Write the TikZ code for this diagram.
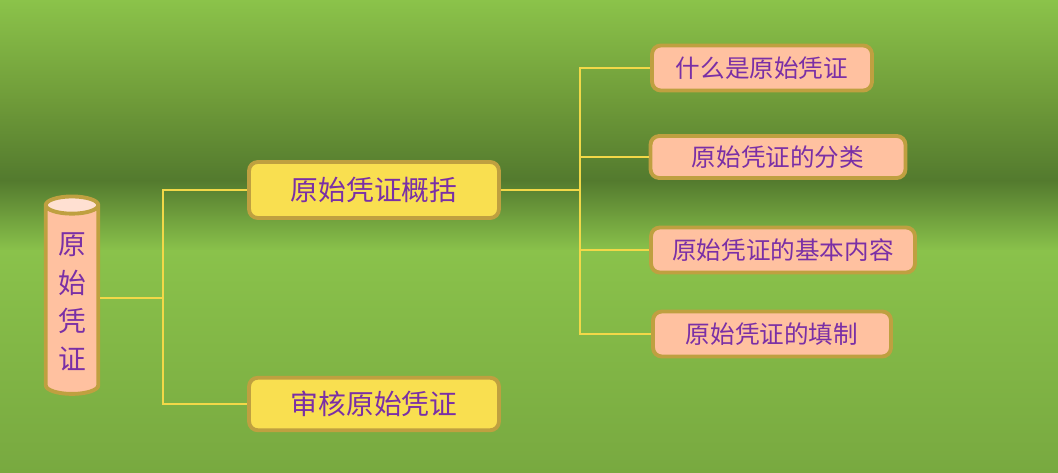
\documentclass[tikz,border=0pt]{standalone}
\usepackage{fontspec}
\newfontfamily\cjk{Noto Sans CJK SC}
\usepackage{tikz}
\usepackage{xcolor}
\usetikzlibrary{shapes.geometric,positioning}
\definecolor{bgtop}{HTML}{8BC34A}
\definecolor{bgmid}{HTML}{6F9B39}
\definecolor{bgdark}{HTML}{537A2E}
\definecolor{bglight}{HTML}{8AC24B}
\definecolor{bgbot}{HTML}{78A940}
\definecolor{goldrim}{HTML}{BFA040}
\definecolor{lemon}{HTML}{F9DF50}
\definecolor{salmon}{HTML}{FFC1A0}
\definecolor{salmonlt}{HTML}{FFE0D2}
\definecolor{plum}{HTML}{7A2FA6}
\definecolor{wire}{HTML}{F2D848}
\tikzset{
  topicbox/.style={draw=goldrim,fill=lemon,line width=2.2pt,rounded corners=5pt,
                   minimum width=5.0cm,align=center,text=plum,
                   font=\cjk\fontsize{15.8}{18}\selectfont,inner sep=2pt},
  leafbox/.style={draw=goldrim,fill=salmon,line width=2.2pt,rounded corners=5pt,
                  minimum height=0.9cm,align=center,text=plum,
                  font=\cjk\fontsize{14}{16}\selectfont,inner sep=2pt},
  pillar/.style={shape=cylinder,shape border rotate=90,aspect=0.55,
                 draw=goldrim,line width=2.2pt,cylinder uses custom fill,
                 cylinder body fill=salmon,cylinder end fill=salmonlt,
                 minimum width=1.05cm,minimum height=3.95cm,inner sep=1pt,
                 align=center,text=plum,font=\cjk\fontsize{15.8}{21.8}\selectfont},
  link/.style={draw=wire,line width=0.8pt}
}

\begin{document}
\begin{tikzpicture}[x=0.02cm,y=-0.02cm]
  \useasboundingbox (0,0) rectangle (1058,473);
  % background bands
  \shade[top color=bgtop,bottom color=bgmid] (0,0) rectangle (1058,101);
  \shade[top color=bgmid,bottom color=bgdark] (0,100) rectangle (1058,181);
  \shade[top color=bgdark,bottom color=bglight] (0,180) rectangle (1058,251);
  \shade[top color=bglight,bottom color=bgbot] (0,250) rectangle (1058,473);

  \node[pillar] (root) at (72,302) {原\\始\\凭\\证};

  \node[topicbox,minimum height=1.12cm] (outline) at (374,190) {原始凭证概括};
  \node[topicbox,minimum height=1.05cm] (audit) at (374,404) {审核原始凭证};

  \node[leafbox,minimum width=4.4cm] (what) at (762,68) {什么是原始凭证};
  \node[leafbox,minimum width=5.1cm,minimum height=0.84cm] (kinds) at (778,157) {原始凭证的分类};
  \node[leafbox,minimum width=5.28cm] (content) at (783,250) {原始凭证的基本内容};
  \node[leafbox,minimum width=4.76cm] (fill) at (772,334) {原始凭证的填制};

  \coordinate (forkA) at (163,298);
  \coordinate (forkB) at (580,190);
  \draw[link] (root.east |- forkA) -- (forkA);
  \draw[link] (forkA) |- (outline.west);
  \draw[link] (forkA) |- (audit.west);
  \draw[link] (outline.east) -- (forkB);
  \draw[link] (forkB) |- (what.west);
  \draw[link] (forkB) |- (kinds.west);
  \draw[link] (forkB) |- (content.west);
  \draw[link] (forkB) |- (fill.west);
\end{tikzpicture}
\end{document}
